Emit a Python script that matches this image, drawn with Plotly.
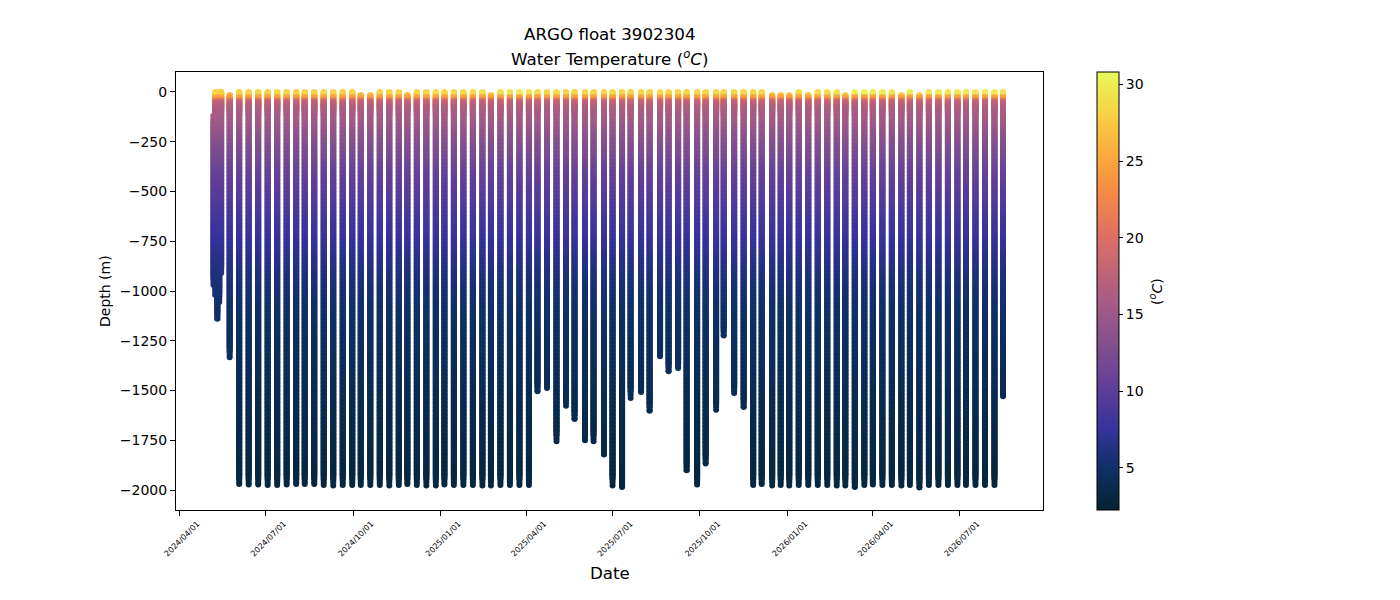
import pandas as pd
import plotly.express as px
import plotly.graph_objects as go

# profile dates (first few are the short start-up cycles)
dates = ["2024-05-07", "2024-05-09", "2024-05-11", "2024-05-13", "2024-05-15",
         "2024-05-24", "2024-06-03", "2024-06-13", "2024-06-23", "2024-07-03",
         "2024-07-13", "2024-07-23", "2024-08-02", "2024-08-11", "2024-08-21",
         "2024-08-31", "2024-09-10", "2024-09-20", "2024-09-30", "2024-10-09",
         "2024-10-19", "2024-10-29", "2024-11-08", "2024-11-18", "2024-11-27",
         "2024-12-07", "2024-12-17", "2024-12-27", "2025-01-05", "2025-01-15",
         "2025-01-25", "2025-02-04", "2025-02-14", "2025-02-23", "2025-03-05",
         "2025-03-15", "2025-03-25", "2025-04-04", "2025-04-13", "2025-04-23",
         "2025-05-03", "2025-05-13", "2025-05-22", "2025-06-02", "2025-06-11",
         "2025-06-22", "2025-07-01", "2025-07-11", "2025-07-20", "2025-07-31",
         "2025-08-09", "2025-08-20", "2025-08-29", "2025-09-08", "2025-09-17",
         "2025-09-28", "2025-10-07", "2025-10-18", "2025-10-26", "2025-11-06",
         "2025-11-16", "2025-11-26", "2025-12-05", "2025-12-16", "2025-12-25",
         "2026-01-03", "2026-01-13", "2026-01-23", "2026-02-02", "2026-02-12",
         "2026-02-22", "2026-03-03", "2026-03-13", "2026-03-23", "2026-04-01",
         "2026-04-11", "2026-04-21", "2026-05-01", "2026-05-10", "2026-05-20",
         "2026-05-30", "2026-06-09", "2026-06-19", "2026-06-29", "2026-07-08",
         "2026-07-18", "2026-07-28", "2026-08-07", "2026-08-16"]

# deepest level of each profile (m)
max_depth = [970, 1020, 1140, 1055, 910,
             1333, 1969, 1972, 1972, 1974, 1974, 1972, 1970, 1970, 1970,
             1974, 1977, 1975, 1974, 1974, 1974, 1974, 1977, 1974, 1970,
             1974, 1977, 1977, 1972, 1974, 1974, 1974, 1977, 1977, 1974,
             1975, 1974, 1975, 1504, 1487, 1755, 1576, 1643, 1750, 1755,
             1821, 1977, 1984, 1537, 1507, 1601, 1328, 1403, 1387, 1900,
             1972, 1866, 1596, 1224, 1512, 1583, 1975, 1970, 1977, 1974,
             1977, 1975, 1974, 1974, 1974, 1977, 1977, 1984, 1974, 1972,
             1974, 1974, 1977, 1975, 1987, 1974, 1975, 1974, 1975, 1974,
             1974, 1974, 1974, 1529]

# shallowest level of each profile (m)
top_depth = [105, 0, 0, 0, 0,
             15, 0, 0, 0, 0, 0, 0, 0, 0, 0,
             0, 0, 0, 0, 15, 15, 0, 0, 0, 15,
             0, 0, 0, 0, 0, 0, 0, 0, 15, 0,
             0, 0, 0, 0, 0, 0, 0, 0, 0, 0,
             0, 0, 0, 0, 0, 0, 0, 0, 0, 0,
             0, 0, 0, 0, 0, 0, 0, 0, 15, 15,
             15, 0, 15, 0, 0, 0, 15, 0, 0, 0,
             0, 0, 15, 0, 15, 0, 0, 0, 0, 0,
             0, 0, 0, 0]

# near-surface temperature of each profile (degC)
surface_temp = [28.0, 28.3, 28.6, 28.2, 27.8,
                26.0, 28.2, 28.4, 28.3, 28.1, 28.4, 28.2, 28.0, 28.3, 28.1,
                28.4, 28.2, 28.0, 28.3, 26.5, 26.6, 28.3, 28.1, 28.2, 26.8,
                28.4, 28.3, 28.6, 28.5, 28.7, 28.8, 28.6, 28.9, 27.6, 29.2,
                29.6, 30.0, 29.4, 28.8, 28.5, 28.6, 28.3, 28.5, 28.4, 28.2,
                28.3, 28.4, 28.2, 28.3, 28.5, 28.3, 28.6, 28.4, 28.5, 28.3,
                28.6, 28.4, 28.5, 28.3, 28.4, 28.6, 28.5, 28.7, 27.2, 27.0,
                27.4, 28.6, 27.5, 28.9, 29.0, 29.3, 28.0, 30.0, 30.2, 29.8,
                30.2, 29.6, 28.6, 30.0, 28.4, 29.6, 29.8, 29.5, 29.7, 29.6,
                29.4, 29.8, 29.6, 29.2]

# mixed layer levels take the surface temperature
shallow_depth = [0, 5, 10, 15, 20, 25, 30, 35]

# typical temperature below the mixed layer
profile_depth = [40, 45, 50, 55, 60, 65, 70, 80, 90, 100,
                 120, 140, 160, 180, 200, 220, 240, 260, 280, 300,
                 320, 340, 360, 380, 400, 420, 440, 460, 480, 500,
                 520, 540, 560, 580, 600, 620, 640, 660, 680, 700,
                 720, 740, 760, 780, 800, 820, 840, 860, 880, 900,
                 920, 940, 960, 980, 1000, 1020, 1040, 1060, 1080, 1100,
                 1120, 1140, 1160, 1180, 1200, 1220, 1240, 1260, 1280, 1300,
                 1320, 1340, 1360, 1380, 1400, 1420, 1440, 1460, 1480, 1500,
                 1520, 1540, 1560, 1580, 1600, 1620, 1640, 1660, 1680, 1700,
                 1720, 1740, 1760, 1780, 1800, 1820, 1840, 1860, 1880, 1900,
                 1920, 1940, 1960, 1980, 2000]
profile_temp = [25.5, 24.8, 24.2, 23.0, 20.5, 18.8, 17.8, 17.2, 16.7, 16.3,
                16.0, 15.7, 15.4, 15.0, 14.6, 14.2, 13.8, 13.4, 13.0, 12.7,
                12.4, 12.1, 11.8, 11.4, 11.0, 10.7, 10.5, 10.3, 10.1, 9.9,
                9.7, 9.5, 9.3, 9.1, 8.9, 8.7, 8.5, 8.3, 8.1, 7.9,
                7.8, 7.6, 7.4, 7.2, 7.0, 6.9, 6.7, 6.5, 6.35, 6.2,
                6.05, 5.9, 5.75, 5.6, 5.5, 5.4, 5.3, 5.2, 5.1, 5.0,
                4.95, 4.9, 4.8, 4.75, 4.7, 4.65, 4.6, 4.55, 4.5, 4.45,
                4.4, 4.35, 4.3, 4.25, 4.2, 4.15, 4.1, 4.05, 4.0, 3.95,
                3.9, 3.85, 3.8, 3.75, 3.7, 3.65, 3.6, 3.55, 3.52, 3.48,
                3.44, 3.4, 3.36, 3.32, 3.28, 3.24, 3.2, 3.16, 3.12, 3.08,
                3.04, 3.0, 2.96, 2.92, 2.88]

tick_dates = ["2024-04-01", "2024-07-01", "2024-10-01", "2025-01-01", "2025-04-01",
              "2025-07-01", "2025-10-01", "2026-01-01", "2026-04-01", "2026-07-01"]

# flatten profiles into points; round dots at the two ends, short bars between
tops, body, bottoms = [], [], []
for date, top, bottom, sst in zip(dates, top_depth, max_depth, surface_temp):
    pts = [(d, sst) for d in shallow_depth if top <= d < bottom]
    pts += [(d, t) for d, t in zip(profile_depth, profile_temp) if top <= d < bottom]
    pts.append((bottom, pts[-1][1]))
    first = pts[0][0]
    for k, (d, t) in enumerate(pts):
        if k == len(pts) - 1:
            bottoms.append((date, -d, t))
        elif d < first + 20:
            tops.append((date, -d, t))
        elif d <= bottom - 20:
            body.append((date, -d, t))
cols = ["JULD", "DEPTH", "TEMP"]
tops = pd.DataFrame(tops, columns=cols)
body = pd.DataFrame(body, columns=cols)
bottoms = pd.DataFrame(bottoms, columns=cols)
for df in (tops, body, bottoms):
    df["JULD"] = pd.to_datetime(df["JULD"])

scale = px.colors.cmocean.thermal
cmin, cmax = 2.26, 30.8
font = "DejaVu Sans"
hover = "%{x}<br>%{y} m<br>%{customdata} °C<extra></extra>"

fig = go.Figure()
# round tops first so the column below covers their lower half
fig.add_trace(go.Scatter(
    x=tops["JULD"], y=tops["DEPTH"], mode="markers", customdata=tops["TEMP"],
    marker=dict(size=6, symbol="circle", color=tops["TEMP"], colorscale=scale,
                cmin=cmin, cmax=cmax, line=dict(width=0)),
    hovertemplate=hover, showlegend=False))
# bars twice as long as the level spacing so every pixel row is covered evenly
fig.add_trace(go.Scatter(
    x=body["JULD"], y=body["DEPTH"], mode="markers", customdata=body["TEMP"],
    marker=dict(size=8, symbol="line-ns",
                line=dict(width=6, color=body["TEMP"], colorscale=scale,
                          cmin=cmin, cmax=cmax)),
    hovertemplate=hover, showlegend=False))
fig.add_trace(go.Scatter(
    x=bottoms["JULD"], y=bottoms["DEPTH"], mode="markers", customdata=bottoms["TEMP"],
    marker=dict(size=6, symbol="circle", color=bottoms["TEMP"], colorscale=scale,
                cmin=cmin, cmax=cmax, line=dict(width=0),
                colorbar=dict(x=1.0623, xanchor="left", y=0.5, yanchor="middle",
                              len=1, thickness=22, xpad=0, ypad=0,
                              outlinewidth=1, outlinecolor="black",
                              ticks="outside", ticklen=4, tickcolor="black",
                              tickvals=[5, 10, 15, 20, 25, 30],
                              tickfont=dict(size=14, color="black"))),
    hovertemplate=hover, showlegend=False))

# page has an 8px body margin, so margins are shifted by that amount
fig.update_layout(
    width=1400, height=600,
    margin=dict(l=168, r=365, t=64, b=98),
    paper_bgcolor="white", plot_bgcolor="white",
    font=dict(family=font, color="black", size=14),
    annotations=[
        dict(text="ARGO float 3902304", x=0.5, y=1.0868, xref="paper", yref="paper",
             yanchor="middle", showarrow=False, font=dict(size=16.7)),
        dict(text="Water Temperature (<sup><i>o</i></sup><i>C</i>)", x=0.5, y=1.032,
             xref="paper", yref="paper", yanchor="middle", showarrow=False,
             font=dict(size=16.7)),
        dict(text="Date", x=0.5, y=-0.1438, xref="paper", yref="paper",
             yanchor="middle", showarrow=False, font=dict(size=16.7)),
        dict(text="Depth (m)", textangle=-90, x=-0.0819, y=0.5, xref="paper", yref="paper",
             xanchor="center", yanchor="middle", showarrow=False, font=dict(size=14)),
        dict(text="(<sup><i>o</i></sup><i>C</i>)", textangle=-90, x=1.1303, y=0.5,
             xref="paper", yref="paper", xanchor="center", yanchor="middle",
             showarrow=False, font=dict(size=14))])

fig.update_xaxes(type="date", range=["2024-03-28 12:00", "2026-09-27 02:00"],
                 tickvals=tick_dates, tickformat="%Y/%m/%d", tickangle=-45,
                 tickfont=dict(size=8), ticklabelshift=18,
                 ticks="outside", ticklen=5, tickcolor="black",
                 showline=True, linecolor="black", linewidth=1, mirror=True,
                 showgrid=False, zeroline=False)
fig.update_yaxes(range=[-2100, 100], tickvals=list(range(0, -2001, -250)),
                 ticks="outside", ticklen=5, tickcolor="black",
                 showline=True, linecolor="black", linewidth=1, mirror=True,
                 showgrid=False, zeroline=False)

fig.write_html("out.html")
